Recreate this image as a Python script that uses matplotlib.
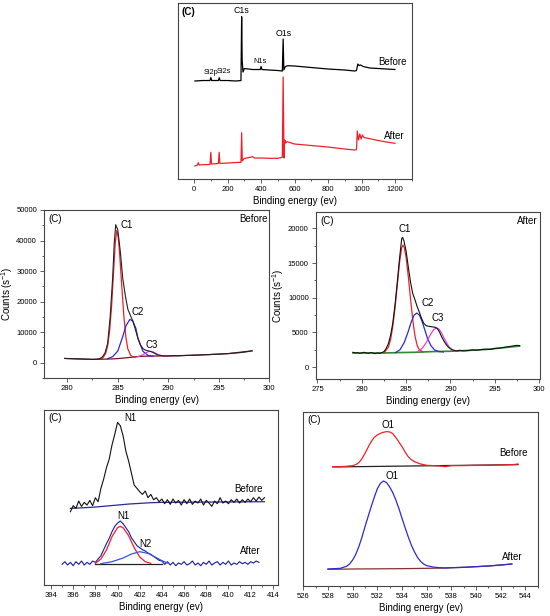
"""XPS survey + C1s / N1s / O1s high-resolution spectra, before vs after."""
import matplotlib
matplotlib.use("Agg")
import matplotlib.pyplot as plt
from matplotlib.ticker import MultipleLocator

plt.rcParams["font.family"] = ["Liberation Sans", "DejaVu Sans"]
plt.rcParams["mathtext.fontset"] = "custom"
plt.rcParams["mathtext.rm"] = "Liberation Sans"

# ---------------- survey (arbitrary units) ----------------
sv_x_before = [5, 50, 95, 100, 105, 145, 150, 155, 200, 250, 280, 284, 287, 292, 300, 350, 395, 400, 405,
               450, 500, 527, 532, 536, 545, 560, 600, 700, 800, 900, 960, 970, 978, 985, 995, 1010,
               1050, 1100, 1150, 1200]
sv_y_before = [98, 98.5, 98.5, 101.5, 98.5, 98.5, 101.3, 98.5, 98.5, 98, 98.5, 162.3, 119, 107, 110.5, 109.5,
               109.5, 112.5, 109.5, 109, 108.5, 108, 140, 109, 112.5, 113.3, 113, 111.5, 110, 109, 108,
               108.5, 115, 113.5, 114, 112.5, 111, 110.5, 110, 109.5]
sv_x_after = [5, 20, 25, 30, 50, 95, 100, 104, 145, 150, 154, 200, 250, 280, 284, 288, 295, 300, 350, 360,
              400, 450, 500, 527, 532, 537, 541, 547, 555, 600, 700, 800, 900, 960, 970, 975, 982, 990,
              998, 1005, 1015, 1030, 1100, 1150, 1200]
sv_y_after = [13, 14, 16.3, 14, 14.3, 14.5, 26.7, 15, 15.5, 26.7, 15.5, 16, 16.5, 16.7, 46.3, 18, 19.7, 20.5,
              22.3, 21, 21, 20.7, 20.7, 21.7, 102, 21, 39, 36, 37.3, 35, 33.5, 32, 30, 29, 29.5, 48, 39,
              45, 40, 44, 41.5, 41, 38.5, 37, 35.7]

# ---------------- C1s before ----------------
c1b_x = [279.75, 280.0, 280.5, 281.0, 281.5, 282.0, 282.5, 283.0, 283.25, 283.5, 283.75, 284.0, 284.25,
         284.5, 284.65, 284.8, 284.9, 285.0, 285.25, 285.5, 285.75, 286.0, 286.25, 286.5, 286.75, 287.0,
         287.25, 287.5, 287.75, 288.0, 288.25, 288.5, 288.75, 289.0, 289.5, 290.0, 290.5, 291.0, 291.5,
         292.0, 292.5, 293.0, 293.5, 294.0, 294.5, 295.0, 295.5, 296.0, 296.5, 297.0, 297.5, 298.0, 298.3]
c1b_y = [1400, 1350, 1300, 1250, 1200, 1150, 1100, 1150, 1350, 1950, 3300, 6300, 15000, 28000, 39000,
         45200, 44300, 43600, 36500, 27500, 22000, 17500, 15500, 13600, 10800, 8000, 5800, 4600, 4100,
         3900, 3700, 3300, 2900, 2500, 2250, 2200, 2300, 2250, 2350, 2400, 2450, 2500, 2600, 2650, 2750,
         2800, 2900, 3000, 3150, 3250, 3450, 3700, 3900]
c1b_c1_x = [283.0, 283.5, 283.8, 284.0, 284.2, 284.4, 284.6, 284.75, 284.9, 285.05, 285.2, 285.4, 285.6,
            285.8, 286.0, 286.3, 286.7]
c1b_c1_y = [1150, 1500, 3000, 5500, 10500, 19000, 30500, 39000, 43300, 41000, 35000, 25000, 15500, 8500,
            4500, 2300, 1700]
c1b_c2_x = [284.0, 284.5, 285.0, 285.5, 285.8, 286.2, 286.5, 286.8, 287.0, 287.5, 288.0, 288.5]
c1b_c2_y = [1300, 2000, 3800, 8600, 12000, 14200, 13600, 11200, 7900, 3700, 2400, 2150]
c1b_c3_x = [287.0, 287.5, 287.8, 288.1, 288.4, 288.7, 289.0, 289.4, 289.8]
c1b_c3_y = [2000, 2600, 3300, 3700, 3650, 3200, 2600, 2200, 2150]
c1b_bg_x = [279.75, 281.0, 282.5, 283.5, 284.5, 285.0, 285.5, 286.0, 286.5, 287.0, 287.5, 288.0, 289.0,
            290.0, 292.0, 294.0, 296.0, 298.3]
c1b_bg_y = [1400, 1250, 1100, 1150, 1250, 1350, 1500, 1650, 1850, 2000, 2100, 2150, 2200, 2200, 2400,
            2650, 3000, 3900]

# ---------------- C1s after ----------------
c1a_x = [279.0, 279.25, 279.5, 279.75, 280.0, 280.25, 280.5, 280.75, 281.0, 281.25, 281.5, 281.75, 282.0,
         282.25, 282.5, 282.75, 283.0, 283.25, 283.5, 283.75, 284.0, 284.25, 284.5, 284.6, 284.75, 285.0,
         285.25, 285.5, 285.75, 286.0, 286.25, 286.5, 286.75, 287.0, 287.25, 287.5, 287.75, 288.0, 288.25,
         288.5, 288.75, 289.0, 289.25, 289.5, 289.75, 290.0, 290.25, 290.5, 290.75, 291.0, 291.5, 292.0,
         292.5, 293.0, 293.5, 294.0, 294.5, 295.0, 295.5, 296.0, 296.5, 297.0, 297.5, 297.8]
c1a_y = [2150, 2050, 2100, 2000, 2050, 2150, 2050, 2000, 2100, 2050, 1950, 2050, 2000, 2100, 2250, 2700,
         3400, 4600, 6400, 9000, 12200, 15600, 18500, 18700, 18200, 16700, 14400, 12200, 10600, 9700,
         8700, 7900, 7000, 6300, 6000, 5900, 5850, 5800, 5750, 5600, 5100, 4400, 3800, 3300, 2900, 2650,
         2500, 2400, 2350, 2450, 2350, 2400, 2500, 2450, 2550, 2600, 2550, 2700, 2750, 2850, 2950, 3050,
         3150, 3100]
c1a_c1_x = [282.5, 283.0, 283.25, 283.5, 283.75, 284.0, 284.25, 284.5, 284.65, 284.8, 285.0, 285.25,
            285.5, 285.75, 286.0, 286.25, 286.5, 286.9]
c1a_c1_y = [2050, 2900, 4000, 5900, 8600, 11800, 15000, 17200, 17600, 17200, 15800, 13000, 9800, 6800,
            4500, 3100, 2500, 2200]
c1a_c2_x = [283.8, 284.3, 284.8, 285.2, 285.6, 285.9, 286.2, 286.5, 286.8, 287.1, 287.4, 287.8, 288.2,
            288.7, 289.2]
c1a_c2_y = [2100, 2500, 3600, 5000, 6600, 7500, 7800, 7500, 6600, 5400, 4200, 3100, 2500, 2250, 2200]
c1a_c3_x = [286.3, 286.8, 287.3, 287.7, 288.1, 288.4, 288.7, 289.0, 289.4, 289.8, 290.2, 290.7]
c1a_c3_y = [2250, 2700, 3600, 4600, 5400, 5650, 5500, 4900, 3900, 3000, 2450, 2300]
c1a_bg_x = [279.0, 281.0, 282.5, 284.0, 286.0, 288.0, 290.0, 291.0, 294.0, 297.8]
c1a_bg_y = [2050, 2050, 2050, 2100, 2150, 2250, 2300, 2350, 2550, 3050]

# ---------------- N1s (arbitrary units) ----------------
n1b_x = [395.75, 396.0, 396.25, 396.5, 396.75, 397.0, 397.25, 397.5, 397.75, 398.0, 398.25, 398.5, 398.75,
         399.0, 399.25, 399.5, 399.75, 400.0, 400.25, 400.5, 400.75, 401.0, 401.25, 401.5, 401.75, 402.0,
         402.25, 402.5, 402.75, 403.0, 403.25, 403.5, 403.75, 404.0, 404.25, 404.5, 404.75, 405.0, 405.25,
         405.5, 405.75, 406.0, 406.25, 406.5, 406.75, 407.0, 407.25, 407.5, 407.75, 408.0, 408.25, 408.5,
         408.75, 409.0, 409.25, 409.5, 409.75, 410.0, 410.25, 410.5, 410.75, 411.0, 411.25, 411.5, 411.75,
         412.0, 412.25, 412.5, 412.75, 413.0, 413.25]
n1b_y = [220, 238, 230, 252, 236, 248, 240, 254, 238, 262, 250, 290, 318, 352, 378, 420, 452, 488, 478, 448,
         402, 372, 336, 300, 290, 280, 272, 282, 262, 272, 256, 262, 250, 258, 244, 256, 242, 258, 246, 254,
         240, 256, 244, 258, 242, 252, 246, 258, 240, 254, 246, 236, 252, 244, 262, 246, 252, 244, 256, 248,
         258, 246, 256, 248, 258, 250, 262, 252, 264, 254, 262]
n1b_bg_x = [395.75, 397.0, 398.0, 399.0, 400.0, 401.0, 402.0, 403.0, 404.0, 413.25]
n1b_bg_y = [230, 232, 234, 237, 240, 243, 245, 247, 248, 250]
n1a_x = [395.0, 395.25, 395.5, 395.75, 396.0, 396.25, 396.5, 396.75, 397.0, 397.25, 397.5, 397.75, 398.0,
         398.25, 398.5, 398.75, 399.0, 399.25, 399.5, 399.75, 400.0, 400.25, 400.5, 400.75, 401.0, 401.25,
         401.5, 401.75, 402.0, 402.25, 402.5, 402.75, 403.0, 403.25, 403.5, 403.75, 404.0, 404.25, 404.5,
         404.75, 405.0, 405.25, 405.5, 405.75, 406.0, 406.25, 406.5, 406.75, 407.0, 407.25, 407.5, 407.75,
         408.0, 408.25, 408.5, 408.75, 409.0, 409.25, 409.5, 409.75, 410.0, 410.25, 410.5, 410.75, 411.0,
         411.25, 411.5, 411.75, 412.0, 412.25, 412.5, 412.75]
n1a_y = [62, 70, 60, 68, 58, 70, 62, 72, 60, 68, 62, 72, 68, 78, 88, 106, 124, 140, 160, 176, 186, 192, 184,
         172, 160, 142, 130, 118, 112, 106, 102, 96, 92, 86, 80, 74, 72, 62, 70, 60, 68, 58, 66, 62, 70, 60,
         64, 72, 60, 66, 58, 68, 62, 72, 60, 66, 70, 60, 68, 62, 72, 60, 66, 62, 70, 64, 68, 62, 70, 66, 72, 68]
n1a_n1_x = [398.0, 398.5, 399.0, 399.5, 400.0, 400.25, 400.5, 401.0, 401.5, 402.0, 402.5, 403.0]
n1a_n1_y = [65, 78, 105, 145, 172, 176, 172, 148, 112, 84, 70, 65]
n1a_n2_x = [398.5, 399.5, 400.5, 401.25, 402.0, 402.75, 403.5, 404.0, 404.5]
n1a_n2_y = [64, 70, 81, 93, 100, 95, 82, 73, 66]
n1a_bg_x = [398.0, 404.0]
n1a_bg_y = [63, 63]

# ---------------- O1s (arbitrary units) ----------------
o1b_x = [528.4, 529.0, 529.5, 530.0, 530.25, 530.5, 530.75, 531.0, 531.25, 531.5, 531.75, 532.0, 532.25,
         532.5, 532.75, 533.0, 533.25, 533.5, 533.75, 534.0, 534.25, 534.5, 534.75, 535.0, 535.5, 536.0,
         536.5, 537.0, 537.5, 538.0, 539.0, 540.0, 541.0, 542.0, 543.0, 543.4]
o1b_y = [358, 358, 359, 361, 364, 370, 382, 398, 416, 433, 446, 453, 458, 461, 463, 462, 457, 445, 432, 418,
         402, 388, 379, 373, 366, 362, 361, 360, 358, 361, 361, 362, 362, 363, 364, 366]
o1b_bg_x = [528.4, 543.4]
o1b_bg_y = [357, 364]
o1a_x = [528.0, 528.5, 529.0, 529.5, 529.75, 530.0, 530.25, 530.5, 530.75, 531.0, 531.25, 531.5, 531.75,
         532.0, 532.25, 532.5, 532.75, 533.0, 533.25, 533.5, 533.75, 534.0, 534.25, 534.5, 534.75, 535.0,
         535.25, 535.5, 535.75, 536.0, 536.5, 537.0, 537.5, 538.0, 539.0, 540.0, 541.0, 542.0, 542.9]
o1a_y = [51, 52, 53, 59, 66, 78, 95, 118, 146, 178, 208, 238, 266, 292, 308, 315, 310, 297, 280, 258, 232,
         203, 175, 148, 123, 103, 86, 74, 66, 61, 57, 55, 54, 55, 56, 58, 60, 63, 66]
o1a_bg_x = [528.0, 530.0, 532.0, 534.0, 536.0, 537.5, 539.0, 540.0, 541.0, 542.0, 542.9]
o1a_bg_y = [50, 51, 51.5, 52, 53, 54, 56, 58, 60, 63, 66]

RED, BLUE, MAG, GRN = "#f0202a", "#2b2bd0", "#e040e0", "#2e8b2e"
TS = 5.5   # tick label size
FS = 7.0   # text size


def style(ax, xmaj, xmin, ymaj=None, ymin=None):
    for s in ax.spines.values():
        s.set_linewidth(0.8)
        s.set_color("#444444")
    ax.xaxis.set_major_locator(MultipleLocator(xmaj))
    ax.xaxis.set_minor_locator(MultipleLocator(xmin))
    ax.tick_params(which="both", direction="out", top=False, right=False, labelsize=TS,
                   width=0.6, color="#444444", pad=2)
    ax.tick_params(which="major", length=3)
    ax.tick_params(which="minor", length=1.6)
    if ymaj is None:
        ax.set_yticks([])
        ax.tick_params(axis="y", which="both", left=False)
    else:
        ax.yaxis.set_major_locator(MultipleLocator(ymaj))
        ax.yaxis.set_minor_locator(MultipleLocator(ymin))
    ax.set_xlabel("Binding energy (ev)", fontsize=FS, labelpad=2)


fig = plt.figure(figsize=(5.5, 6.16), dpi=100)

# survey
ax1 = fig.add_axes([0.324, 0.7094, 0.4255, 0.2857])
ax1.plot(sv_x_before, sv_y_before, color="black", lw=0.9)
ax1.plot(sv_x_after, sv_y_after, color=RED, lw=0.9)
ax1.set_xlim(-95, 1303); ax1.set_ylim(0, 176)
style(ax1, 200, 100)
ax1.text(-75, 167, "(C)", fontsize=FS, fontweight="bold", va="center")
ax1.text(284, 169, "C1s", fontsize=6.3, ha="center", va="center")
ax1.text(538, 146, "O1s", fontsize=6.3, ha="center", va="center")
ax1.text(394, 118, "N1s", fontsize=5.3, ha="center", va="center")
ax1.text(100, 106.7, "Si2p", fontsize=5.3, ha="center", va="center")
ax1.text(178, 108, "Si2s", fontsize=5.3, ha="center", va="center")
ax1.text(1272, 117.3, "Before", fontsize=FS, ha="right", va="center")
ax1.text(1256, 43.3, "After", fontsize=FS, ha="right", va="center")

# C1s before
ax2 = fig.add_axes([0.08, 0.3864, 0.4096, 0.2727])
ax2.plot(c1b_bg_x, c1b_bg_y, color="#7a1020", lw=0.9)
ax2.plot(c1b_c1_x, c1b_c1_y, color=RED, lw=0.9)
ax2.plot(c1b_c2_x, c1b_c2_y, color=BLUE, lw=0.9)
ax2.plot(c1b_c3_x, c1b_c3_y, color=MAG, lw=0.9)
ax2.plot(c1b_x, c1b_y, color="#222222", lw=0.8)
ax2.set_xlim(277.7, 300); ax2.set_ylim(-5000, 50000)
style(ax2, 5, 2.5, 10000, 5000)
ax2.set_ylabel("Counts (s$^{-1}$)", fontsize=FS, labelpad=1)
ax2.text(278.1, 47000, "(C)", fontsize=FS, va="center")
ax2.text(299.8, 47000, "Before", fontsize=FS, ha="right", va="center")
ax2.text(285.3, 45200, "C1", fontsize=FS, va="center")
ax2.text(286.4, 16500, "C2", fontsize=FS, va="center")
ax2.text(287.7, 5800, "C3", fontsize=FS, va="center")

# C1s after
ax3 = fig.add_axes([0.574, 0.3847, 0.4078, 0.2706])
ax3.plot(c1a_bg_x, c1a_bg_y, color=GRN, lw=1.2)
ax3.plot(c1a_c1_x, c1a_c1_y, color=RED, lw=0.9)
ax3.plot(c1a_c2_x, c1a_c2_y, color=BLUE, lw=0.9)
ax3.plot(c1a_c3_x, c1a_c3_y, color=MAG, lw=0.9)
ax3.plot(c1a_x, c1a_y, color="#111111", lw=0.8)
ax3.set_xlim(274.8, 300.1); ax3.set_ylim(-1700, 22300)
style(ax3, 5, 2.5, 5000, 2500)
ax3.set_ylabel("Counts (s$^{-1}$)", fontsize=FS, labelpad=1)
ax3.text(275.3, 21000, "(C)", fontsize=FS, va="center")
ax3.text(299.8, 21000, "After", fontsize=FS, ha="right", va="center")
ax3.text(284.1, 19900, "C1", fontsize=FS, va="center")
ax3.text(286.7, 9300, "C2", fontsize=FS, va="center")
ax3.text(287.9, 7100, "C3", fontsize=FS, va="center")

# N1s
ax4 = fig.add_axes([0.0806, 0.0503, 0.4255, 0.284])
ax4.plot(n1b_bg_x, n1b_bg_y, color="#2a2a90", lw=0.9)
ax4.plot(n1b_x, n1b_y, color="#111111", lw=0.8)
ax4.plot(n1a_bg_x, n1a_bg_y, color="#222222", lw=0.9)
ax4.plot(n1a_x, n1a_y, color="#1a1aa0", lw=0.8)
ax4.plot(n1a_n1_x, n1a_n1_y, color=RED, lw=0.9)
ax4.plot(n1a_n2_x, n1a_n2_y, color="#3b50e0", lw=0.9)
ax4.set_xlim(393.4, 414.5); ax4.set_ylim(0, 525)
style(ax4, 2, 1)
ax4.text(393.8, 500, "(C)", fontsize=FS, va="center")
ax4.text(400.6, 500, "N1", fontsize=FS, va="center")
ax4.text(413.1, 287, "Before", fontsize=FS, ha="right", va="center")
ax4.text(400.0, 208, "N1", fontsize=FS, va="center")
ax4.text(402.0, 123, "N2", fontsize=FS, va="center")
ax4.text(412.9, 103, "After", fontsize=FS, ha="right", va="center")

# O1s
ax5 = fig.add_axes([0.5515, 0.0487, 0.4262, 0.282])
ax5.plot(o1b_bg_x, o1b_bg_y, color="#222222", lw=0.9)
ax5.plot(o1b_x, o1b_y, color=RED, lw=0.9)
ax5.plot(o1a_bg_x, o1a_bg_y, color="#8a2f2f", lw=0.9)
ax5.plot(o1a_x, o1a_y, color=BLUE, lw=0.9)
ax5.set_xlim(526, 545); ax5.set_ylim(0, 521)
style(ax5, 2, 1)
ax5.text(526.3, 498, "(C)", fontsize=FS, va="center")
ax5.text(532.9, 484, "O1", fontsize=FS, ha="center", va="center")
ax5.text(544.2, 398, "Before", fontsize=FS, ha="right", va="center")
ax5.text(533.2, 330, "O1", fontsize=FS, ha="center", va="center")
ax5.text(543.8, 88, "After", fontsize=FS, ha="right", va="center")

fig.savefig("out.png", dpi=100)
print("saved out.png")
